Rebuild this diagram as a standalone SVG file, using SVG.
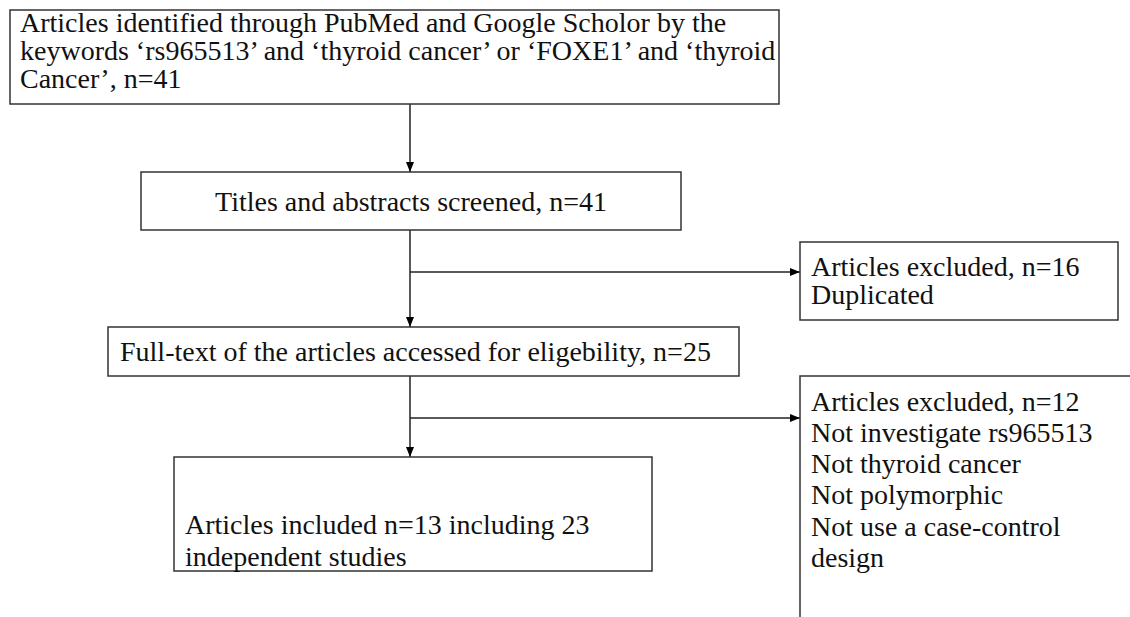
<svg xmlns="http://www.w3.org/2000/svg" width="1130" height="617" viewBox="0 0 1130 617">
<defs>
<marker id="ah" viewBox="0 0 10 8" refX="10" refY="4" markerWidth="10" markerHeight="8" markerUnits="userSpaceOnUse" orient="auto">
<path d="M0,0 L10,4 L0,8 Z" fill="#000"/>
</marker>
</defs>
<style>
.box{fill:#fff;stroke:#333;stroke-width:1.5}
.t{font-family:'Liberation Serif','Times New Roman',serif;font-size:28px;fill:#111}
.c{stroke:#222;stroke-width:1.5;fill:none}
</style>
<rect width="1130" height="617" fill="#fff"/>
<g id="connectors">
<line class="c" x1="410" y1="104" x2="410" y2="172" marker-end="url(#ah)"/>
<line class="c" x1="410" y1="230" x2="410" y2="327" marker-end="url(#ah)"/>
<line class="c" x1="410" y1="272" x2="800" y2="272" marker-end="url(#ah)"/>
<line class="c" x1="410" y1="376" x2="410" y2="457" marker-end="url(#ah)"/>
<line class="c" x1="410" y1="418" x2="800" y2="418" marker-end="url(#ah)"/>
</g>
<g id="n1">
<rect class="box" x="10" y="10" width="769" height="94"/>
<text class="t" x="20" y="32">Articles identified through PubMed and Google Scholor by the</text>
<text class="t" x="20" y="60">keywords ‘rs965513’ and ‘thyroid cancer’ or ‘FOXE1’ and ‘thyroid</text>
<text class="t" x="20" y="88">Cancer’, n=41</text>
</g>
<g id="n2">
<rect class="box" x="141" y="172" width="540" height="58"/>
<text class="t" x="411" y="211" text-anchor="middle">Titles and abstracts screened, n=41</text>
</g>
<g id="n3">
<rect class="box" x="800" y="242" width="318" height="78"/>
<text class="t" x="811" y="276">Articles excluded, n=16</text>
<text class="t" x="811" y="304">Duplicated</text>
</g>
<g id="n4">
<rect class="box" x="108" y="327" width="631" height="49"/>
<text class="t" x="120" y="361">Full-text of the articles accessed for eligebility, n=25</text>
</g>
<g id="n5">
<rect class="box" x="174" y="457" width="478" height="114"/>
<text class="t" x="185" y="534">Articles included n=13 including 23</text>
<text class="t" x="185" y="566">independent studies</text>
</g>
<g id="n6">
<path class="box" d="M800,617 L800,376 L1130,376" fill="none"/>
<text class="t" x="811" y="411">Articles excluded, n=12</text>
<text class="t" x="811" y="442">Not investigate rs965513</text>
<text class="t" x="811" y="473">Not thyroid cancer</text>
<text class="t" x="811" y="504">Not polymorphic</text>
<text class="t" x="811" y="536">Not use a case-control</text>
<text class="t" x="811" y="567">design</text>
</g>
</svg>
